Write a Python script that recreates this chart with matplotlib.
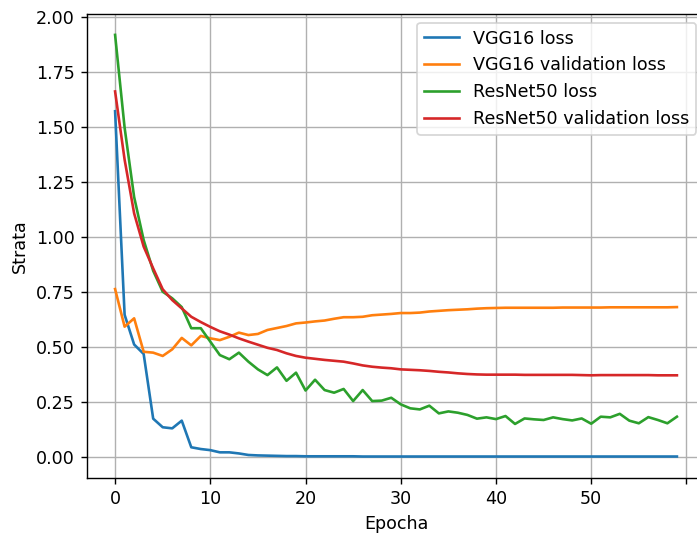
import matplotlib
matplotlib.use("Agg")
import matplotlib.pyplot as plt

# -----------------------------
# 1. Data
# -----------------------------
epochs = list(range(60))

vgg16_loss = [
    1.57, 0.645, 0.51, 0.467, 0.173, 0.134, 0.129, 0.164, 0.043, 0.035,
    0.030, 0.020, 0.020, 0.015, 0.008, 0.006, 0.005, 0.004, 0.003, 0.003,
    0.002, 0.002, 0.002, 0.002, 0.002, 0.002, 0.001, 0.001, 0.001, 0.001,
    0.001, 0.001, 0.001, 0.001, 0.001, 0.001, 0.001, 0.001, 0.001, 0.001,
    0.001, 0.001, 0.001, 0.001, 0.001, 0.001, 0.001, 0.001, 0.001, 0.001,
    0.001, 0.001, 0.001, 0.001, 0.001, 0.001, 0.001, 0.001, 0.001, 0.001,
]

vgg16_val = [
    0.762, 0.591, 0.629, 0.477, 0.473, 0.458, 0.488, 0.540, 0.506, 0.549,
    0.538, 0.530, 0.545, 0.564, 0.553, 0.558, 0.576, 0.585, 0.594, 0.606,
    0.610, 0.615, 0.619, 0.627, 0.634, 0.634, 0.636, 0.643, 0.646, 0.649,
    0.653, 0.653, 0.655, 0.660, 0.663, 0.666, 0.668, 0.670, 0.673, 0.675,
    0.676, 0.677, 0.677, 0.677, 0.677, 0.677, 0.677, 0.678, 0.678, 0.678,
    0.678, 0.678, 0.679, 0.679, 0.679, 0.679, 0.679, 0.679, 0.679, 0.680,
]

resnet50_loss = [
    1.917, 1.495, 1.18, 0.985, 0.845, 0.750, 0.720, 0.680, 0.584, 0.584,
    0.523, 0.462, 0.443, 0.473, 0.432, 0.397, 0.371, 0.406, 0.345, 0.382,
    0.301, 0.350, 0.303, 0.291, 0.308, 0.253, 0.303, 0.253, 0.255, 0.268,
    0.238, 0.220, 0.215, 0.232, 0.197, 0.206, 0.200, 0.190, 0.173, 0.179,
    0.171, 0.185, 0.149, 0.174, 0.170, 0.167, 0.179, 0.171, 0.165, 0.174,
    0.150, 0.182, 0.179, 0.195, 0.164, 0.152, 0.180, 0.167, 0.152, 0.182,
]

resnet50_val = [
    1.660, 1.350, 1.106, 0.955, 0.856, 0.761, 0.712, 0.674, 0.636, 0.612,
    0.590, 0.570, 0.555, 0.538, 0.523, 0.509, 0.495, 0.485, 0.470, 0.458,
    0.450, 0.445, 0.440, 0.436, 0.432, 0.424, 0.415, 0.409, 0.405, 0.402,
    0.397, 0.395, 0.393, 0.390, 0.386, 0.383, 0.379, 0.376, 0.374, 0.373,
    0.373, 0.373, 0.373, 0.372, 0.372, 0.372, 0.372, 0.372, 0.372, 0.371,
    0.370, 0.371, 0.371, 0.371, 0.371, 0.371, 0.371, 0.370, 0.370, 0.370,
]

x_ticks = [0, 10, 20, 30, 40, 50, 60]
x_tick_labels = ["0", "10", "20", "30", "40", "50", ""]

# -----------------------------
# 2. Plot
# -----------------------------
DPI = 126
fig = plt.figure(figsize=(697 / DPI, 533 / DPI), dpi=DPI)
# axes run a little past the right edge, like the cropped original
ax = fig.add_axes([87 / 697, 55.4 / 533, 618 / 697, 463.8 / 533])

ax.plot(epochs, vgg16_loss, label="VGG16 loss")
ax.plot(epochs, vgg16_val, label="VGG16 validation loss")
ax.plot(epochs, resnet50_loss, label="ResNet50 loss")
ax.plot(epochs, resnet50_val, label="ResNet50 validation loss")

ax.set_xticks(x_ticks, x_tick_labels)
ax.set_xlim(-2.95, 61.95)
ax.set_xlabel("Epocha")
ax.set_ylabel("Strata")
ax.grid(True)
ax.legend(loc="upper right")

fig.savefig("out.png", dpi=DPI)
